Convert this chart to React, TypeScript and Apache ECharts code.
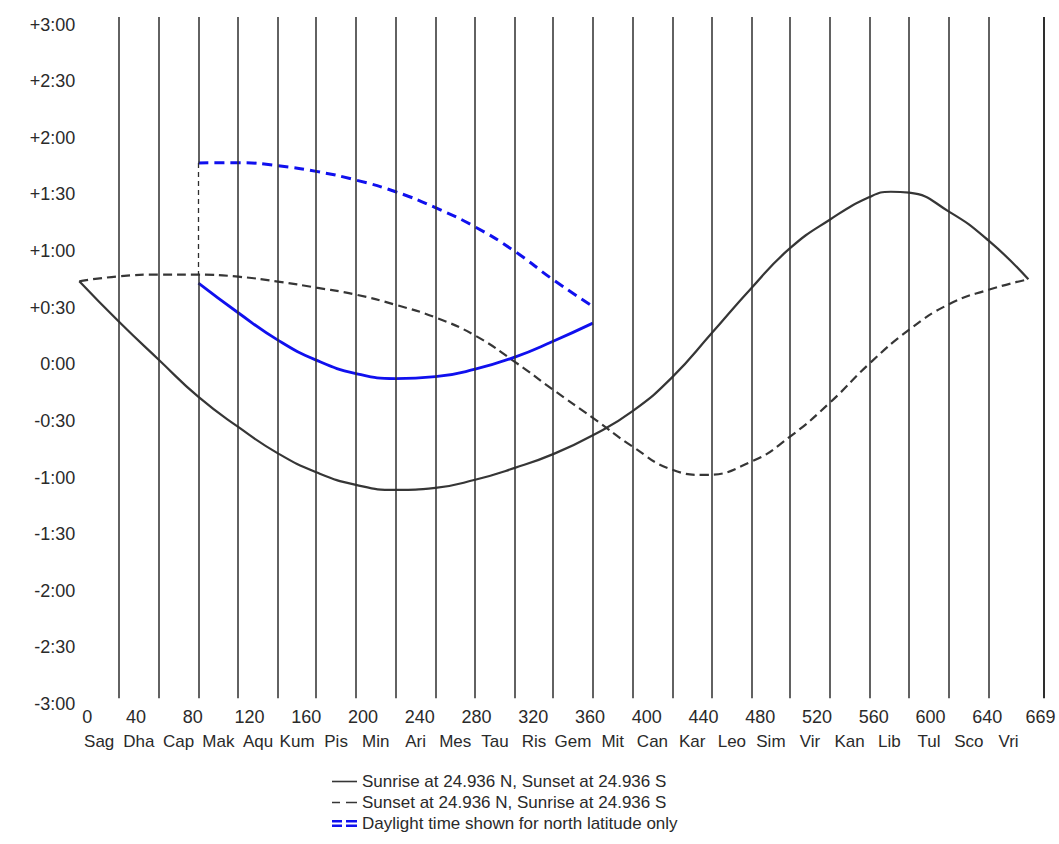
import { useEffect, useRef } from 'react';
import * as echarts from 'echarts';

const FONT = '"Liberation Sans", Arial, Helvetica, sans-serif';
const TEXT = '#2a2a2a';

// Darian month boundaries (sols) and names
const monthBounds = [0, 28, 56, 84, 112, 140, 167, 195, 223, 251, 279, 307, 334, 362, 390, 418, 446, 474, 501, 529, 557, 585, 613, 641, 669];
const monthNames = ['Sag', 'Dha', 'Cap', 'Mak', 'Aqu', 'Kum', 'Pis', 'Min', 'Ari', 'Mes', 'Tau', 'Ris', 'Gem', 'Mit', 'Can', 'Kar', 'Leo', 'Sim', 'Vir', 'Kan', 'Lib', 'Tul', 'Sco', 'Vri'];
const xTickValues = [0, 40, 80, 120, 160, 200, 240, 280, 320, 360, 400, 440, 480, 520, 560, 600, 640, 669];
const yTickValues = [-180, -150, -120, -90, -60, -30, 0, 30, 60, 90, 120, 150, 180];
const X_MAX = 680;
const Y_MIN = -180;
const Y_MAX = 184;
const LINE_TOP = 184;
const LINE_BOTTOM = -177;

// Series (minutes relative to 0:00)
const sunriseNX = [0, 28, 56, 84, 112, 140, 167, 195, 223, 251, 279, 307, 334, 362, 390, 418, 446, 474, 501, 529, 557, 572, 585, 613, 641, 669];
const sunriseNVals = [44, 22.5, 2.4, -17.3, -33.2, -47.2, -57.2, -63.9, -66.6, -65.5, -61.2, -54.9, -47.6, -37.6, -24.8, -6.8, 16.7, 40.6, 61.5, 76.6, 88.6, 91.4, 90.9, 80.9, 65.5, 45];

const sunsetNX = [0, 28, 56, 84, 112, 140, 167, 195, 223, 251, 279, 307, 334, 362, 390, 418, 440, 474, 501, 529, 557, 585, 613, 641, 669];
const sunsetNVals = [44, 46.6, 47.5, 47.5, 46.4, 43.8, 40.6, 36.9, 31.5, 24.8, 15.2, 1.3, -13.5, -28.4, -43.6, -55.9, -58.6, -51.5, -38.3, -20.4, 0.4, 18.3, 31.8, 39.5, 45];

const daylightX = [84, 112, 140, 167, 195, 223, 251, 279, 307, 334, 362];
const daylightSunsetVals = [106.7, 106.8, 105.2, 102.2, 97.6, 91.4, 83, 72.8, 59.8, 44.8, 30.6];
const daylightSunriseVals = [43, 27.3, 12.8, 2.2, -4.9, -7.6, -6.6, -2.6, 3.8, 12.2, 21.8];

const NAME_A = 'Sunrise at 24.936 N, Sunset at 24.936 S';
const NAME_B = 'Sunset at 24.936 N, Sunrise at 24.936 S';
const NAME_C = 'Daylight time shown for north latitude only';

const GRAY = '#363636';
const BLUE = '#1010ee';

const pairs = (xs: number[], ys: number[]) => xs.map((x, i) => [x, ys[i]]);

const fmtY = (v: number) => {
  if (v === 0) return '0:00';
  const a = Math.abs(v);
  const h = Math.floor(a / 60);
  const m = Math.round(a % 60);
  return (v > 0 ? '+' : '-') + h + ':' + (m < 10 ? '0' : '') + m;
};

export default function App() {
  const ref = useRef<HTMLDivElement>(null);
  useEffect(() => {
    document.body.style.margin = '0';
    const chart = echarts.init(ref.current!, null, { renderer: 'svg' });

    const monthCenters = monthNames.map((_, i) => (monthBounds[i] + monthBounds[i + 1]) / 2);

    const solid = { color: '#2e2e2e', width: 1.5, type: 'solid' };
    const dashedSeg = { color: '#2e2e2e', width: 1.3, type: [5, 4] };
    const seg = (x: number, y1: number, y2: number, st: any) => [
      { coord: [x, y1], lineStyle: st },
      { coord: [x, y2], lineStyle: st },
    ];
    const markData: any[] = [];
    monthBounds.slice(1, -1).forEach((b) => {
      if (b === daylightX[0]) {
        const yBlue = daylightSunsetVals[0];
        const yGray = sunsetNVals[sunsetNX.indexOf(b)];
        markData.push(seg(b, LINE_TOP, yBlue, solid));
        markData.push(seg(b, yBlue, yGray, dashedSeg));
        markData.push(seg(b, yGray, LINE_BOTTOM, solid));
      } else {
        markData.push(seg(b, LINE_TOP, LINE_BOTTOM, solid));
      }
    });
    markData.push(seg(X_MAX, LINE_TOP, LINE_BOTTOM, { ...solid, width: 2 }));

    const first = xTickValues[0];
    const last = xTickValues[xTickValues.length - 1];

    const option: any = {
      animation: false,
      backgroundColor: '#ffffff',
      textStyle: { fontFamily: FONT },
      grid: { left: 79.3, right: 15, top: 17, bottom: 140 },
      xAxis: [
        {
          type: 'value',
          min: 0,
          max: X_MAX,
          position: 'bottom',
          axisLine: { show: false },
          axisTick: { show: false },
          splitLine: { show: false },
          axisLabel: {
            customValues: xTickValues,
            margin: 4,
            fontSize: 18,
            color: TEXT,
            fontFamily: FONT,
            formatter: (v: number) =>
              v === last ? '{r|' + v + '}' : v === first ? '{f|' + v + '}' : String(v),
            rich: {
              r: { fontSize: 18, color: TEXT, fontFamily: FONT, padding: [0, 0, 0, 24] },
              f: { fontSize: 18, color: TEXT, fontFamily: FONT, padding: [0, 0, 0, 16] },
            },
          },
        },
        {
          type: 'value',
          min: 0,
          max: X_MAX,
          position: 'bottom',
          offset: 25,
          axisLine: { show: false },
          axisTick: { show: false },
          splitLine: { show: false },
          axisLabel: {
            customValues: monthCenters,
            margin: 4,
            fontSize: 17,
            color: TEXT,
            fontFamily: FONT,
            formatter: (v: number) => {
              const i = monthCenters.findIndex((c) => Math.abs(c - v) < 0.01);
              return i >= 0 ? monthNames[i] : '';
            },
          },
        },
      ],
      yAxis: {
        type: 'value',
        min: Y_MIN,
        max: Y_MAX,
        axisLine: { show: false },
        axisTick: { show: false },
        splitLine: { show: false },
        axisLabel: {
          customValues: yTickValues,
          margin: 4,
          fontSize: 18,
          color: TEXT,
          fontFamily: FONT,
          formatter: fmtY,
        },
      },
      legend: {
        orient: 'vertical',
        left: 327,
        top: 768,
        itemWidth: 25,
        itemHeight: 14,
        itemGap: 4,
        selectedMode: false,
        textStyle: { fontSize: 17, color: TEXT, fontFamily: FONT },
        data: [
          { name: NAME_A, icon: 'path://M0,0h25v1.6h-25z' },
          { name: NAME_B, icon: 'path://M0,0h8v1.6h-8zM14,0h11v1.6h-11z' },
          { name: NAME_C, icon: 'path://M0,0h10v2.6h-10zM14,0h11v2.6h-11zM0,4.6h10v2.6h-10zM14,4.6h11v2.6h-11z' },
        ],
      },
      series: [
        {
          name: 'grid-lines',
          type: 'line',
          data: [],
          z: 1,
          silent: true,
          markLine: {
            silent: true,
            symbol: ['none', 'none'],
            label: { show: false },
            animation: false,
            data: markData,
          },
        },
        {
          name: NAME_A,
          type: 'line',
          z: 3,
          data: pairs(sunriseNX, sunriseNVals),
          smooth: 0.5,
          symbol: 'none',
          itemStyle: { color: GRAY },
          lineStyle: { color: GRAY, width: 2.2 },
        },
        {
          name: NAME_B,
          type: 'line',
          z: 3,
          data: pairs(sunsetNX, sunsetNVals),
          smooth: 0.5,
          symbol: 'none',
          itemStyle: { color: GRAY },
          lineStyle: { color: GRAY, width: 2.2, type: [9, 5] },
        },
        {
          name: NAME_C,
          type: 'line',
          z: 4,
          data: pairs(daylightX, daylightSunsetVals),
          smooth: 0.5,
          symbol: 'none',
          itemStyle: { color: BLUE },
          lineStyle: { color: BLUE, width: 3, type: [10, 6] },
        },
        {
          name: NAME_C,
          type: 'line',
          z: 4,
          data: pairs(daylightX, daylightSunriseVals),
          smooth: 0.5,
          symbol: 'none',
          itemStyle: { color: BLUE },
          lineStyle: { color: BLUE, width: 2.8 },
        },
      ],
    };

    chart.setOption(option);
    return () => chart.dispose();
  }, []);
  return <div ref={ref} style={{ width: 1059, height: 844 }} />;
}
